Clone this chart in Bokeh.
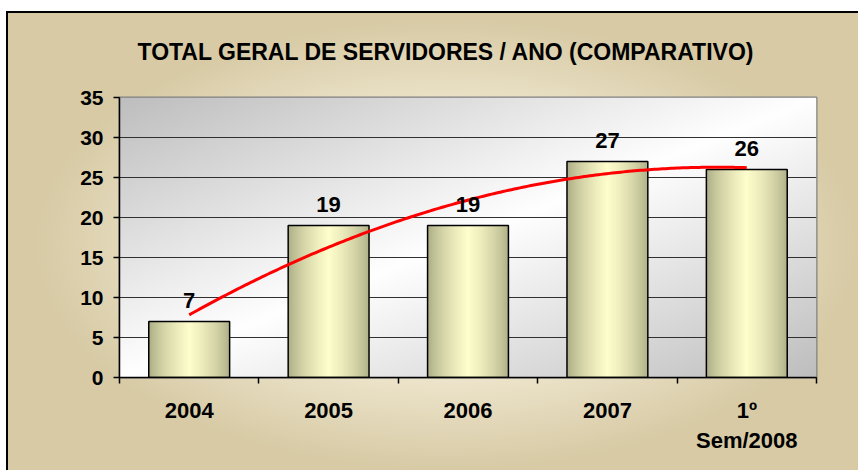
import numpy as np
from bokeh.plotting import figure
from bokeh.models import ColumnDataSource, FixedTicker, LabelSet
from bokeh.core.properties import value
from bokeh.embed import file_html
from bokeh.resources import INLINE

# ---- data ----
categories = ["2004", "2005", "2006", "2007", "1º\nSem/2008"]
values = [7, 19, 19, 27, 26]
y_ticks = [0, 5, 10, 15, 20, 25, 30, 35]
title_text = "TOTAL GERAL DE SERVIDORES / ANO (COMPARATIVO)"

x_pos = list(range(len(categories)))
X0, X1 = -0.5, len(categories) - 0.5
Y0, Y1 = 0, 35
BAR_W = 0.58
FONT = "Liberation Sans"

p = figure(width=858, height=470, output_backend="svg", toolbar_location=None,
           x_range=(X0, X1), y_range=(Y0, Y1),
           min_border_left=119, min_border_right=42, min_border_top=97, min_border_bottom=93)

p.border_fill_color = None
p.background_fill_color = None
p.styles = {
    "background": (
        "linear-gradient(#000,#000) 6px 11px / 100% 2px no-repeat,"
        "linear-gradient(#000,#000) 6px 11px / 2px 100% no-repeat,"
        "linear-gradient(#fff,#fff) 0 0 / 100% 11px no-repeat,"
        "linear-gradient(#fff,#fff) 0 0 / 6px 100% no-repeat,"
        "radial-gradient(ellipse closest-side at 52% 52%, #f4eedd 0%, #efe7cf 55%, #d7caa5 100%) #d7caa5"
    )
}

# plot-area diagonal gradient (gray - white - gray)
H, W = 140, 350
u = np.linspace(0, 1, W)[None, :]
v = np.linspace(1, 0, H)[:, None]  # row 0 is bottom
t = (u + v) / 2.0
k = 1 - np.abs(t - 0.5) * 2
g = (190 + (255 - 190) * k).astype(np.uint32)
img = np.empty((H, W), dtype=np.uint32)
view = img.view(dtype=np.uint8).reshape((H, W, 4))
view[..., 0] = g
view[..., 1] = g
view[..., 2] = g
view[..., 3] = 255
p.image_rgba(image=[img], x=X0, y=Y0, dw=X1 - X0, dh=Y1 - Y0, level="image")

# bars with horizontal gradient
BW = 80
s = np.linspace(0, 1, BW)
kk = 1 - np.abs(s - 0.5) * 2
kk = kk ** 0.7
r = (170 + (255 - 170) * kk)
gg = (170 + (255 - 170) * kk)
b = (132 + (205 - 132) * kk)
bar_img = np.empty((1, BW), dtype=np.uint32)
bv = bar_img.view(dtype=np.uint8).reshape((1, BW, 4))
bv[0, :, 0] = r.astype(np.uint8)
bv[0, :, 1] = gg.astype(np.uint8)
bv[0, :, 2] = b.astype(np.uint8)
bv[0, :, 3] = 255
bars_src = ColumnDataSource(dict(
    image=[bar_img] * len(values),
    x=[xp - BAR_W / 2 for xp in x_pos],
    y=[Y0] * len(values),
    dw=[BAR_W] * len(values),
    dh=values,
))
p.image_rgba(image="image", x="x", y="y", dw="dw", dh="dh", source=bars_src)

src = ColumnDataSource(dict(x=x_pos, top=values, lab=[str(v_) for v_ in values]))
p.vbar(x="x", top="top", width=BAR_W, source=src, fill_color=None,
       line_color="black", line_width=1.5)

# polynomial (order 2) trend line fitted to the data
coef = np.polyfit(np.array(x_pos, dtype=float), np.array(values, dtype=float), 2)
xs = np.linspace(x_pos[0], x_pos[-1], 200)
p.line(xs, np.polyval(coef, xs), line_color="#ff0000", line_width=3)

labels = LabelSet(x="x", y="top", text="lab", source=src, text_align="center",
                  text_baseline="alphabetic", y_offset=14,
                  text_font=value(FONT), text_font_style="bold",
                  text_font_size="22px", text_color="black")
p.add_layout(labels)

# title
p.title.text = title_text
p.title.align = "left"
p.title.offset = 18
p.title.standoff = 66
p.title.text_font = FONT
p.title.text_font_style = "bold"
p.title.text_font_size = "23px"
p.title.text_color = "black"

# grid
p.xgrid.grid_line_color = None
p.ygrid.grid_line_color = "#303030"
p.ygrid.grid_line_width = 1.2
p.ygrid.ticker = FixedTicker(ticks=y_ticks)
p.outline_line_color = "#808080"
p.outline_line_width = 2

# axes
p.yaxis.ticker = FixedTicker(ticks=y_ticks)
p.yaxis.axis_line_color = "black"
p.yaxis.axis_line_width = 1.5
p.yaxis.major_tick_out = 6
p.yaxis.major_tick_in = 0
p.yaxis.major_tick_line_color = "black"
p.yaxis.major_tick_line_width = 1.5
p.yaxis.minor_tick_line_color = None
p.yaxis.major_label_standoff = 10
p.yaxis.major_label_text_font = FONT
p.yaxis.major_label_text_font_style = "bold"
p.yaxis.major_label_text_font_size = "21px"
p.yaxis.major_label_text_color = "black"

p.xaxis.ticker = FixedTicker(ticks=x_pos, minor_ticks=[xp - 0.5 for xp in x_pos] + [x_pos[-1] + 0.5])
p.xaxis.major_label_overrides = {xp: c for xp, c in zip(x_pos, categories)}
p.xaxis.axis_line_color = "black"
p.xaxis.axis_line_width = 1.5
p.xaxis.major_tick_out = 6
p.xaxis.major_tick_in = 0
p.xaxis.major_tick_line_color = None
p.xaxis.minor_tick_out = 6
p.xaxis.minor_tick_in = 0
p.xaxis.minor_tick_line_color = "black"
p.xaxis.minor_tick_line_width = 1.5
p.xaxis.major_label_standoff = 14
p.xaxis.major_label_text_font = FONT
p.xaxis.major_label_text_font_style = "bold"
p.xaxis.major_label_text_font_size = "22px"
p.xaxis.major_label_text_color = "black"

open("out.html", "w").write(file_html(p, INLINE))
